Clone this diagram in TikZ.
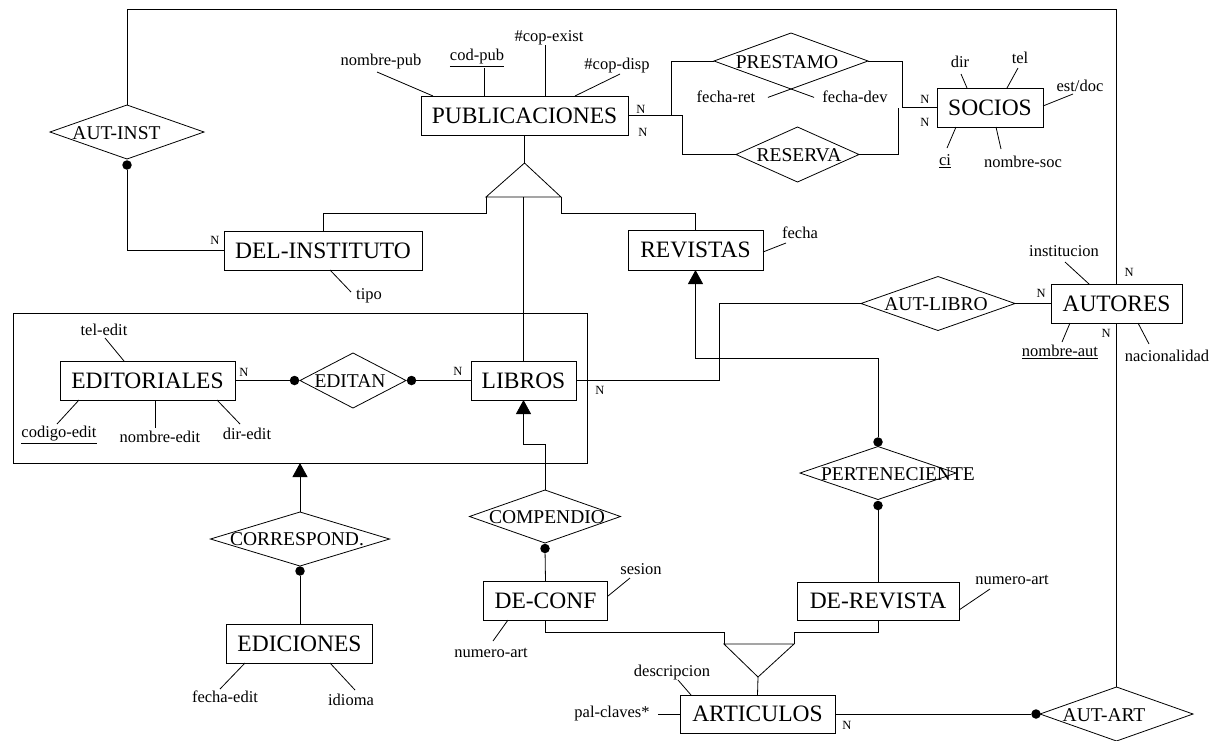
\documentclass[tikz,border=0pt]{standalone}
\usepackage{fontspec}
\setmainfont{Liberation Serif}
\usetikzlibrary{shapes.geometric,arrows.meta,calc}
\newcommand\attrib[5]{%
  \node[attrtext] (#1) at (#2) {#3};
  \coordinate (#1-a) at (#4);
  \coordinate (#1-b) at (#5);
  \draw (#1-a) -- (#1-b);}
\begin{document}
\begin{tikzpicture}[x=1pt,y=-1pt,line width=0.8pt,
  ent/.style={draw, inner sep=0, outer sep=0, font=\fontsize{23.5}{28}\selectfont},
  rel/.style={draw, shape=diamond, inner sep=0, outer sep=0},
  reltext/.style={font=\fontsize{19.5}{23}\selectfont, inner sep=0},
  attrtext/.style={font=\fontsize{16.5}{20}\selectfont, inner sep=0},
  card/.style={font=\fontsize{12.5}{15}\selectfont, inner sep=0},
  dotnode/.style={circle, fill, inner sep=0, outer sep=0, minimum size=9.5pt},
  isaarrow/.style={-{Triangle[length=14pt,width=15pt]}}]
\useasboundingbox (0,0) rectangle (1215,740);

% ---------- entities ----------
\node[ent, minimum width=207pt, minimum height=39pt] (pub) at (524.5,115.5) {PUBLICACIONES};
\node[ent, minimum width=198pt, minimum height=39pt] (delinst) at (323,250.5) {DEL-INSTITUTO};
\node[ent, minimum width=135pt, minimum height=40pt] (revistas) at (695.5,250) {REVISTAS};
\node[ent, minimum width=106pt, minimum height=39pt] (socios) at (990,107.5) {SOCIOS};
\node[ent, minimum width=131pt, minimum height=39pt] (autores) at (1116.5,303.5) {AUTORES};
\node[ent, minimum width=175pt, minimum height=39pt] (editoriales) at (147.5,380.5) {EDITORIALES};
\node[ent, minimum width=105pt, minimum height=39pt] (libros) at (523.5,380.5) {LIBROS};
\node[ent, minimum width=124pt, minimum height=39pt] (deconf) at (545.5,600.5) {DE-CONF};
\node[ent, minimum width=162pt, minimum height=38pt] (derevista) at (878,601) {DE-REVISTA};
\node[ent, minimum width=146pt, minimum height=39pt] (ediciones) at (299.5,643.5) {EDICIONES};
\node[ent, minimum width=155pt, minimum height=38pt] (articulos) at (757.5,714) {ARTICULOS};

% aggregation frame
\node[draw, inner sep=0, outer sep=0, minimum width=574pt, minimum height=150pt] (frame) at (300,388) {};

% ---------- relationships ----------
\node[rel, minimum width=154pt, minimum height=54pt] (autinst) at (127,132) {};
\node[reltext] (t-autinst) at (116.5,133) {AUT-INST};
\node[rel, minimum width=154pt, minimum height=56pt] (prestamo) at (791,61) {};
\node[reltext] (t-prestamo) at (787,62) {PRESTAMO};
\node[rel, minimum width=123pt, minimum height=55pt] (reserva) at (797.5,154.5) {};
\node[reltext] (t-reserva) at (799,155) {RESERVA};
\node[rel, minimum width=154pt, minimum height=54pt] (autlibro) at (938,303.5) {};
\node[reltext] (t-autlibro) at (936,304) {AUT-LIBRO};
\node[rel, minimum width=106pt, minimum height=55pt] (editan) at (353,380.5) {};
\node[reltext] (t-editan) at (350,381) {EDITAN};
\node[rel, minimum width=151pt, minimum height=53pt] (compendio) at (545,516.5) {};
\node[reltext] (t-compendio) at (547,517) {COMPENDIO};
\node[rel, minimum width=179pt, minimum height=54pt] (correspond) at (300,539) {};
\node[reltext] (t-correspond) at (297,539) {CORRESPOND.};
\node[rel, minimum width=156pt, minimum height=53pt] (pert) at (878,473) {};
\node[reltext] (t-pert) at (898,474) {PERTENECIENTE};
\node[rel, minimum width=153pt, minimum height=54pt] (autart) at (1116.5,714) {};
\node[reltext] (t-autart) at (1104,715) {AUT-ART};

% ---------- dots ----------
\node[dotnode] (dai) at (127,165) {};
\node[dotnode] (ded1) at (294.5,380.5) {};
\node[dotnode] (ded2) at (411.5,380.5) {};
\node[dotnode] (dcomp) at (545,548.5) {};
\node[dotnode] (dcor) at (300,571) {};
\node[dotnode] (dpt1) at (878,442) {};
\node[dotnode] (dpt2) at (878,505.5) {};
\node[dotnode] (daa) at (1036,714) {};

% ---------- bend points ----------
\coordinate (topl) at (127,9);
\coordinate (pb1) at (671,115.5);
\coordinate (pb2) at (682,115.5);
\coordinate (prb) at (902,61);
\coordinate (rsb) at (898,154.5);
\coordinate (rsc) at (898,107.5);
\coordinate (alb1) at (719,303.5);
\coordinate (alb2) at (719,380.5);
\coordinate (ptb) at (878,358);
\coordinate (cmpb) at (545,444);
\coordinate (isa1) at (524.5,163);
\coordinate (isa1l) at (486,197);
\coordinate (isa1r) at (561,197);
\coordinate (isa1m) at (523.5,197);
\coordinate (isa1lb) at (486,213);
\coordinate (isa1rb) at (561,213);
\coordinate (isa2) at (758,677);
\coordinate (isa2l) at (724,644);
\coordinate (isa2r) at (794,644);
\coordinate (isa2lb) at (724,632);
\coordinate (isa2rb) at (794,632);

% ---------- ISA triangles ----------
\draw (isa1) -- (isa1l) -- (isa1r) -- cycle;
\draw (pub.south) -- (isa1);
\draw (isa1l) -- (isa1lb) -| (delinst.north);
\draw (isa1m) -- (libros.north);
\draw (isa1r) -- (isa1rb) -| (revistas.north);
\draw (isa2l) -- (isa2r) -- (isa2) -- cycle;
\draw (isa2) -- (articulos.north);
\draw (deconf.south) |- (isa2lb) -- (isa2l);
\draw (derevista.south) |- (isa2rb) -- (isa2r);

% ---------- connectors ----------
\draw (autinst.north) -- (topl) -| (autores.north);
\draw (dai) |- (delinst.west);
\draw (pub.east) -- (pb1) |- (prestamo.west);
\draw (pb1) -- (pb2) |- (reserva.west);
\draw (prestamo.east) -- (prb) |- (socios.west);
\draw (reserva.east) -- (rsb) -- (rsc);
\coordinate (pfr) at ($(prestamo.east)!1.3!(prestamo.south)$);
\coordinate (pfd) at ($(prestamo.west)!1.3!(prestamo.south)$);
\draw (prestamo.south) -- (pfr);
\draw (prestamo.south) -- (pfd);
\draw (autlibro.east) -- (autores.west);
\draw (autlibro.west) -- (alb1) -- (alb2) -- (libros.east);
\draw (editoriales.east) -- (ded1);
\draw (ded2) -- (libros.west);
\draw[isaarrow] (dpt1) -- (ptb) -| (revistas.south);
\draw (dpt2) -- (derevista.north);
\draw[isaarrow] (compendio.north) -- (cmpb) -| (libros.south);
\draw (dcomp) -- (deconf.north);
\draw[isaarrow] (correspond.north) -- (frame.south);
\draw (dcor) -- (dcor |- ediciones.north);
\draw (autores.south) -- (autart.north);
\draw (articulos.east) -- (daa);

% ---------- attributes ----------
\attrib{a-nombrepub}{381,62}{nombre-pub}{433,96}{377,72}
\attrib{a-codpub}{477,58}{\underline{cod-pub}}{484,96}{484,68}
\attrib{a-copexist}{549,38}{\#cop-exist}{545,96}{545,45}
\attrib{a-copdisp}{617,66}{\#cop-disp}{575,96}{620,74}
\attrib{a-tipo}{369,296}{tipo}{330,270}{351,292}
\attrib{a-fecha}{800,233}{fecha}{763,252}{786,243}
\attrib{a-dir}{960,62}{dir}{967,88}{961,74}
\attrib{a-tel}{1020,58}{tel}{1007,88}{1018,68}
\attrib{a-estdoc}{1080,86}{est/doc}{1043,106}{1073,94}
\attrib{a-ci}{945,161}{\underline{ci}}{956,127}{947,148}
\attrib{a-nombresoc}{1023,162}{nombre-soc}{996,127}{1001,149}
\node[attrtext] (a-fecharet) at (726,97) {fecha-ret};
\node[attrtext] (a-fechadev) at (855,97) {fecha-dev};
\attrib{a-institucion}{1064,251}{institucion}{1089,284}{1065,262}
\attrib{a-nombreaut}{1060,352}{\underline{nombre-aut}}{1070,323}{1062,342}
\attrib{a-nacionalidad}{1167,356}{nacionalidad}{1138,323}{1149,344}
\attrib{a-teledit}{104,330}{tel-edit}{124,361}{105,338}
\attrib{a-codigoedit}{59,435}{\underline{codigo-edit}}{79,400}{57,424}
\attrib{a-nombreedit}{160,437}{nombre-edit}{155,400}{155,428}
\attrib{a-diredit}{247,434}{dir-edit}{217,400}{240,424}
\attrib{a-sesion}{641,569}{sesion}{608,596}{630,578}
\attrib{a-numart1}{491,653}{numero-art}{508,620}{493,641}
\attrib{a-numart2}{1012,580}{numero-art}{959,610}{990,589}
\attrib{a-descripcion}{672,673}{descripcion}{691,695}{678,680}
\attrib{a-palclaves}{612,714}{pal-claves*}{658,714}{680,714}
\attrib{a-fechaedit}{225,697}{fecha-edit}{245,663}{220,689}
\attrib{a-idioma}{351,700}{idioma}{330,663}{355,690}

% ---------- cardinalities ----------
\node[card] (n1) at (215,240) {N};
\node[card] (n2) at (641,109) {N};
\node[card] (n3) at (643,132) {N};
\node[card] (n4) at (925,99) {N};
\node[card] (n5) at (925,122) {N};
\node[card] (n6) at (1129,272) {N};
\node[card] (n7) at (1041,293) {N};
\node[card] (n8) at (1106,333) {N};
\node[card] (n9) at (244,372) {N};
\node[card] (n10) at (458,371) {N};
\node[card] (n11) at (600,390) {N};
\node[card] (n12) at (847,725) {N};
\end{tikzpicture}
\end{document}
